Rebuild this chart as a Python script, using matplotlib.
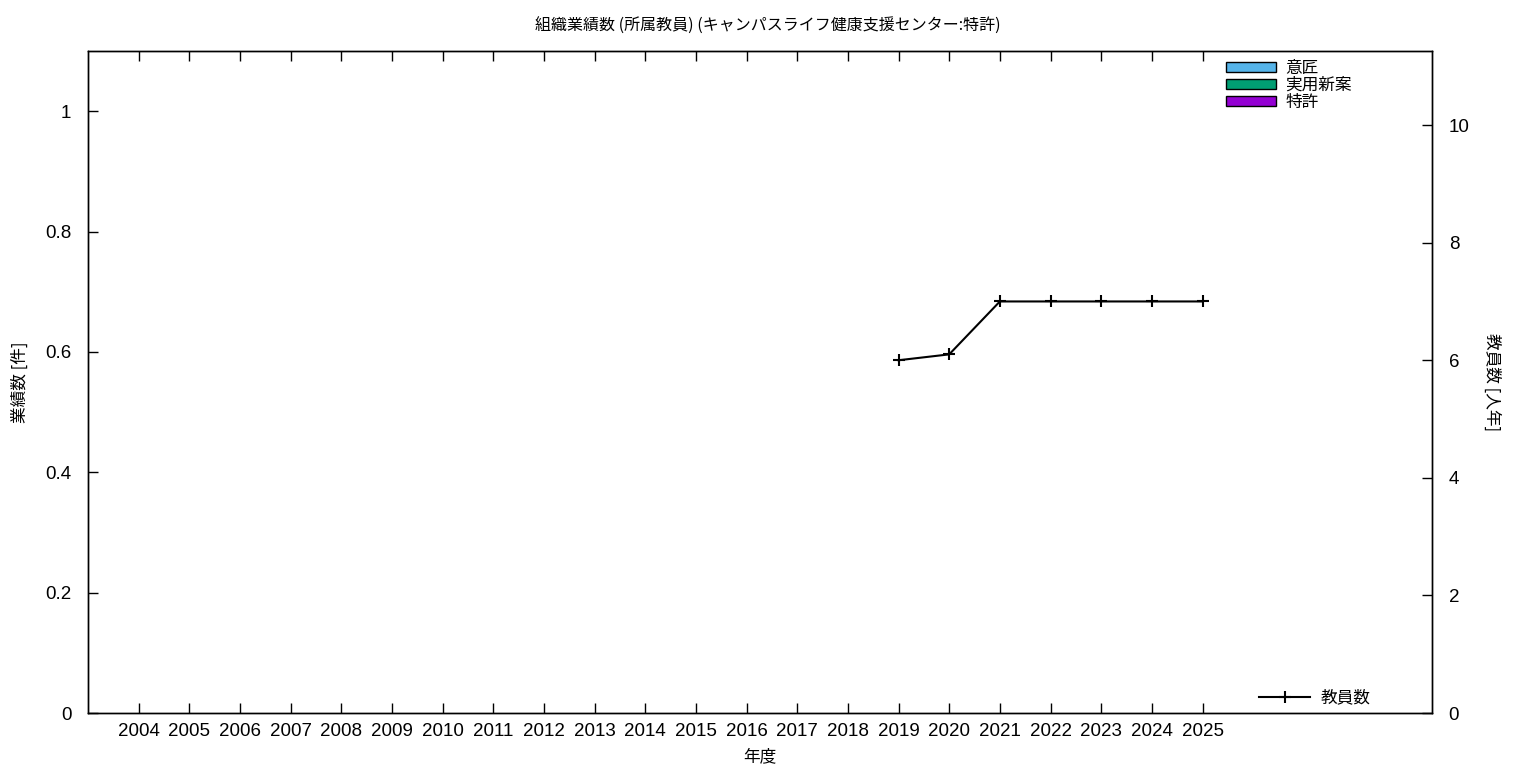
import numpy as np
import matplotlib
matplotlib.use('Agg')
import matplotlib.pyplot as plt
from matplotlib.patches import Patch

plt.rcParams['font.family'] = ['Noto Sans CJK JP', 'DejaVu Sans']

# data ......................................................................
years = list(range(2004, 2026))
design = [0] * len(years)        # 意匠
utility = [0] * len(years)       # 実用新案
patent = [0] * len(years)        # 特許

staff_years = [2019, 2020, 2021, 2022, 2023, 2024, 2025]
staff = [6.0, 6.1, 7.0, 7.0, 7.0, 7.0, 7.0]

title = '組織業績数 (所属教員) (キャンパスライフ健康支援センター:特許)'
colors = ['#56b4e9', '#009e73', '#9400d3']
names = ['意匠', '実用新案', '特許']

# figure ....................................................................
fig = plt.figure(figsize=(15.36, 7.68), dpi=100)
ax = fig.add_axes([88 / 1536, 1 - 713 / 768, (1432 - 88) / 1536, (713 - 51) / 768])
ax2 = ax.twinx()

x = np.array(years)
bottom = np.zeros(len(years))
for vals, c in zip([design, utility, patent], colors):
    ax.bar(x, vals, width=0.5, bottom=bottom, color=c, linewidth=0)
    bottom = bottom + np.array(vals)

ax2.plot(staff_years, staff, color='black', linewidth=1.5, marker='+', markersize=8,
         markeredgewidth=1.5, label='教員数')

ax.set_xlim(2003.0, 2029.53)
ax.set_ylim(0, 1.1)
ax2.set_ylim(0, 11.26)

tick_font = dict(family='Liberation Sans', size=13.5)
ax.set_xticks(years)
ax.set_xticklabels([str(y) for y in years], fontdict=tick_font)
ax.set_yticks([0, 0.2, 0.4, 0.6, 0.8, 1.0])
ax.set_yticklabels(['0', '0.2', '0.4', '0.6', '0.8', '1'], fontdict=tick_font)
ax2.set_yticks([0, 2, 4, 6, 8, 10])
ax2.set_yticklabels(['0', '2', '4', '6', '8', '10'], fontdict=tick_font)

ax.tick_params(axis='x', direction='in', length=7, width=1, top=True, pad=7)
ax.tick_params(axis='y', direction='in', length=7, width=1, pad=12)
ax2.tick_params(axis='y', direction='in', length=7, width=1, pad=12)

for a in (ax, ax2):
    for s in a.spines.values():
        s.set_linewidth(1)

ax.set_xlabel('年度', fontsize=12, labelpad=6)
ax.set_ylabel('業績数 [件]', fontsize=12, labelpad=12)
ax2.set_ylabel('教員数 [人年]', fontsize=12, rotation=-90, labelpad=22)
fig.text(0.5, 1 - 26 / 768, title, fontsize=11.5, ha='center', va='center')

handles = [Patch(facecolor=c, edgecolor='black', linewidth=1, label=n)
           for c, n in zip(colors, names)]
ax.legend(handles=handles, loc='upper left', bbox_to_anchor=(1219 / 1536, 1 - 53 / 768),
          bbox_transform=fig.transFigure, frameon=False, fontsize=12, handlelength=3.0,
          handleheight=0.55, handletextpad=0.6, labelspacing=0.0, borderaxespad=0)
ax2.legend(loc='upper left', bbox_to_anchor=(1252 / 1536, 1 - 683 / 768),
           bbox_transform=fig.transFigure, frameon=False, fontsize=12, handlelength=3.1,
           handletextpad=0.6, borderaxespad=0)

fig.savefig('out.png', dpi=100)
